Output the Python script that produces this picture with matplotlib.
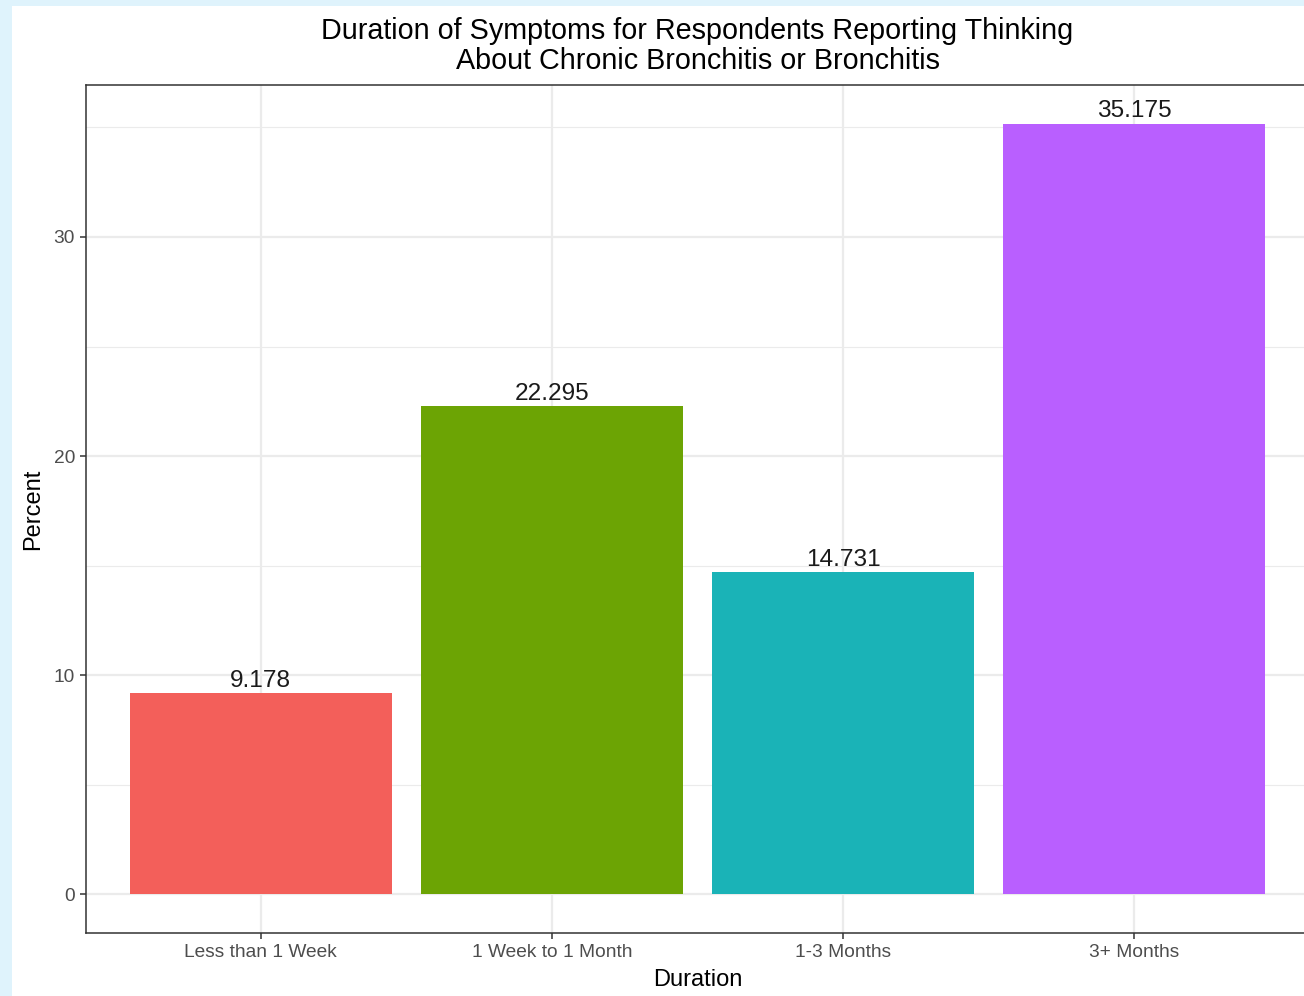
import matplotlib
matplotlib.use("Agg")
import matplotlib.pyplot as plt
from matplotlib.patches import Rectangle

# data
categories = ["Less than 1 Week", "1 Week to 1 Month", "1-3 Months", "3+ Months"]
percent = [9.178, 22.295, 14.731, 35.175]
colors = ["#F35F5A", "#6CA404", "#1AB3B7", "#B95FFF"]
y_ticks = [0, 10, 20, 30]

plt.rcParams["font.family"] = ["Liberation Sans", "DejaVu Sans"]

W, H = 1304, 996
fig = plt.figure(figsize=(W / 100, H / 100), dpi=100, facecolor="#DFF3FC")

# white slide area (screenshot crop), drawn behind the axes
fig.patches.append(Rectangle((12 / W, 0), 1 - 12 / W, 1 - 6 / H,
                             transform=fig.transFigure, facecolor="white",
                             edgecolor="none", zorder=-10))

# panel: left 86, right 1309, top 85, bottom 933 (pixels)
ax = fig.add_axes([86 / W, 1 - 933 / H, (1309 - 86) / W, (933 - 85) / H])
ax.set_facecolor("white")

x = list(range(1, len(categories) + 1))
ax.bar(x, percent, width=0.9, color=colors, zorder=3)
for xi, v in zip(x, percent):
    ax.text(xi, v + 0.05, f"{v:g}", ha="center", va="bottom",
            fontsize=17.6, color="#1a1a1a", zorder=4)

ymax = max(percent)
ax.set_xlim(0.4, len(categories) + 0.6)
ax.set_ylim(-0.05 * ymax, ymax * 1.05)

ax.set_xticks(x)
ax.set_xticklabels(categories)
ax.set_yticks(y_ticks)
ax.set_yticks([5, 15, 25, 35], minor=True)
ax.tick_params(axis="both", which="major", length=4, width=1.1, color="#333333",
               labelsize=13.8, labelcolor="#4d4d4d", pad=4)
ax.tick_params(axis="y", which="minor", length=0)

ax.grid(True, which="major", color="#ebebeb", linewidth=1.6, zorder=0)
ax.grid(True, which="minor", axis="y", color="#ebebeb", linewidth=0.8, zorder=0)
ax.set_axisbelow(True)
for s in ax.spines.values():
    s.set_color("#333333")
    s.set_linewidth(1.1)

ax.set_xlabel("Duration", fontsize=17, color="black", labelpad=6)
ax.set_ylabel("Percent", fontsize=17, color="black", labelpad=7)
ax.set_title("Duration of Symptoms for Respondents Reporting Thinking\n"
             "About Chronic Bronchitis or Bronchitis",
             fontsize=20.7, color="black", linespacing=1.1, pad=11.5)

fig.savefig("out.png", dpi=100, facecolor=fig.get_facecolor())
